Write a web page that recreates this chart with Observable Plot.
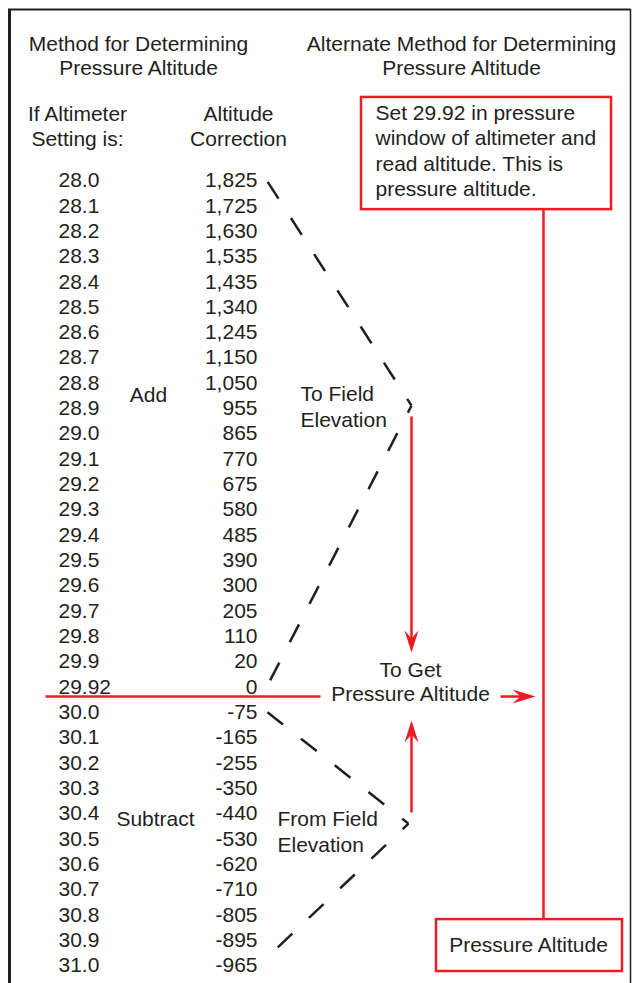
<!DOCTYPE html>
<html>
<head>
<meta charset="utf-8">
<script src="https://cdn.jsdelivr.net/npm/d3@7"></script>
<script src="https://cdn.jsdelivr.net/npm/@observablehq/plot@0.6"></script>
<style>
  html, body { margin: 0; padding: 0; background: #fff; }
  #chart svg { display: block; }
</style>
</head>
<body>
<div id="chart"></div>
<script>
// ---- data ----
const settings = ["28.0","28.1","28.2","28.3","28.4","28.5","28.6","28.7","28.8","28.9",
  "29.0","29.1","29.2","29.3","29.4","29.5","29.6","29.7","29.8","29.9","29.92",
  "30.0","30.1","30.2","30.3","30.4","30.5","30.6","30.7","30.8","30.9","31.0"];
const corrections = [1825,1725,1630,1535,1435,1340,1245,1150,1050,955,
  865,770,675,580,485,390,300,205,110,20,0,
  -75,-165,-255,-350,-440,-530,-620,-710,-805,-895,-965];

// header / annotation texts (y in row units)
const headers = [
  {text: "Method for Determining", x: 138, y: -5.37},
  {text: "Pressure Altitude", x: 138, y: -4.42},
  {text: "Alternate Method for Determining", x: 461, y: -5.37},
  {text: "Pressure Altitude", x: 461, y: -4.42},
  {text: "If Altimeter", x: 77, y: -2.61},
  {text: "Setting is:", x: 77, y: -1.62},
  {text: "Altitude", x: 238, y: -2.61},
  {text: "Correction", x: 238, y: -1.62}
];
const boxLines = ["Set 29.92 in pressure", "window of altimeter and", "read altitude. This is", "pressure altitude."];
const notesCentered = [
  {text: "Add", x: 148, y: 8.5},
  {text: "Subtract", x: 155, y: 25.22},
  {text: "To Get", x: 410, y: 19.35},
  {text: "Pressure Altitude", x: 410, y: 20.3},
  {text: "Pressure Altitude", x: 528, y: 30.21}
];
const notesLeft = [
  {text: "To Field", x: 300, y: 8.45},
  {text: "Elevation", x: 300, y: 9.48},
  {text: "From Field", x: 277, y: 25.24},
  {text: "Elevation", x: 277, y: 26.26}
];
// dashed chevrons: each leg drawn from its apex outward
const chevrons = [
  {x: 411, y: 8.89, g: "a"}, {x: 265, y: -0.08, g: "a"},
  {x: 411, y: 8.89, g: "b"}, {x: 265, y: 20.1, g: "b"},
  {x: 408, y: 25.4, g: "c"}, {x: 267, y: 21.0, g: "c"},
  {x: 408, y: 25.4, g: "d"}, {x: 275, y: 30.37, g: "d"}
];
const redLines = [
  {x1: 45, x2: 320, y1: 20.38, y2: 20.38},
  {x1: 500, x2: 530, y1: 20.38, y2: 20.38},
  {x1: 411, x2: 411, y1: 9.32, y2: 18.3},
  {x1: 411, x2: 411, y1: 24.96, y2: 21.7},
  {x1: 543, x2: 543, y1: 1.15, y2: 29.19}
];
const heads = [
  {x: 535, y: 20.38, dir: "right"},
  {x: 411, y: 18.64, dir: "down"},
  {x: 411, y: 21.33, dir: "up"}
];
const boxes = [
  {x1: 361, x2: 611, y1: -3.28, y2: 1.15},
  {x1: 436, x2: 622, y1: 29.19, y2: 31.24}
];

const ink = "#231f20";
const red = "#ed1c24";
const font = 21;

function headSymbol(dir) {
  return {
    draw(ctx) {
      const pts = {
        down: [[0,0],[-7,-22],[0,-14],[7,-22]],
        up: [[0,0],[-7,22],[0,14],[7,22]],
        right: [[0,0],[-23,-7],[-15,0],[-23,7]]
      }[dir];
      ctx.moveTo(pts[0][0], pts[0][1]);
      for (let k = 1; k < pts.length; k++) ctx.lineTo(pts[k][0], pts[k][1]);
      ctx.closePath();
    }
  };
}
const fmt = v => d3.format(",")(v).replace("\u2212", "-");

const chart = Plot.plot({
  width: 633,
  height: 983,
  margin: 0,
  x: {domain: [0, 633], range: [0, 633], axis: null},
  y: {domain: [-7.109, 31.714], range: [0, 983], axis: null},
  style: {fontFamily: "'Liberation Sans', Arial, sans-serif", background: "#fff"},
  marks: [
    // frame
    Plot.ruleX([9], {y1: -6.75, y2: 31.714, stroke: ink, strokeWidth: 3}),
    Plot.ruleX([630], {y1: -6.75, y2: 31.714, stroke: ink, strokeWidth: 1.5}),
    Plot.ruleY([-6.75], {x1: 8, x2: 630.5, stroke: ink, strokeWidth: 2}),
    // headers
    Plot.text(headers, {x: "x", y: "y", text: "text", textAnchor: "middle", fontSize: font, fill: ink}),
    // table
    Plot.text(settings, {x: 58, y: (d, i) => i, text: d => d, textAnchor: "start", fontSize: font, fill: ink}),
    Plot.text(corrections, {x: 257, y: (d, i) => i, text: d => fmt(d), textAnchor: "end", fontSize: font, fill: ink}),
    // dashed chevrons
    Plot.line(chevrons, {x: "x", y: "y", z: "g", stroke: ink, strokeWidth: 2.5,
      strokeDasharray: "20,23", strokeDashoffset: 12, strokeLinecap: "butt"}),
    // red boxes
    Plot.rect(boxes, {x1: "x1", x2: "x2", y1: "y1", y2: "y2", fill: "none", stroke: red, strokeWidth: 2.5}),
    // red lines and arrows
    Plot.link(redLines, {x1: "x1", x2: "x2", y1: "y1", y2: "y2", stroke: red, strokeWidth: 2.5}),
    Plot.dot(heads.filter(d => d.dir === "right"), {x: "x", y: "y", symbol: headSymbol("right"), fill: red, stroke: "none", r: 10}),
    Plot.dot(heads.filter(d => d.dir === "down"), {x: "x", y: "y", symbol: headSymbol("down"), fill: red, stroke: "none", r: 10}),
    Plot.dot(heads.filter(d => d.dir === "up"), {x: "x", y: "y", symbol: headSymbol("up"), fill: red, stroke: "none", r: 10}),
    // box text
    Plot.text(boxLines, {x: 375, y: (d, i) => -2.65 + i * 1.0, text: d => d, textAnchor: "start", fontSize: font, fill: ink}),
    // notes
    Plot.text(notesCentered, {x: "x", y: "y", text: "text", textAnchor: "middle", fontSize: font, fill: ink}),
    Plot.text(notesLeft, {x: "x", y: "y", text: "text", textAnchor: "start", fontSize: font, fill: ink})
  ]
});
document.getElementById("chart").appendChild(chart);
</script>
</body>
</html>
